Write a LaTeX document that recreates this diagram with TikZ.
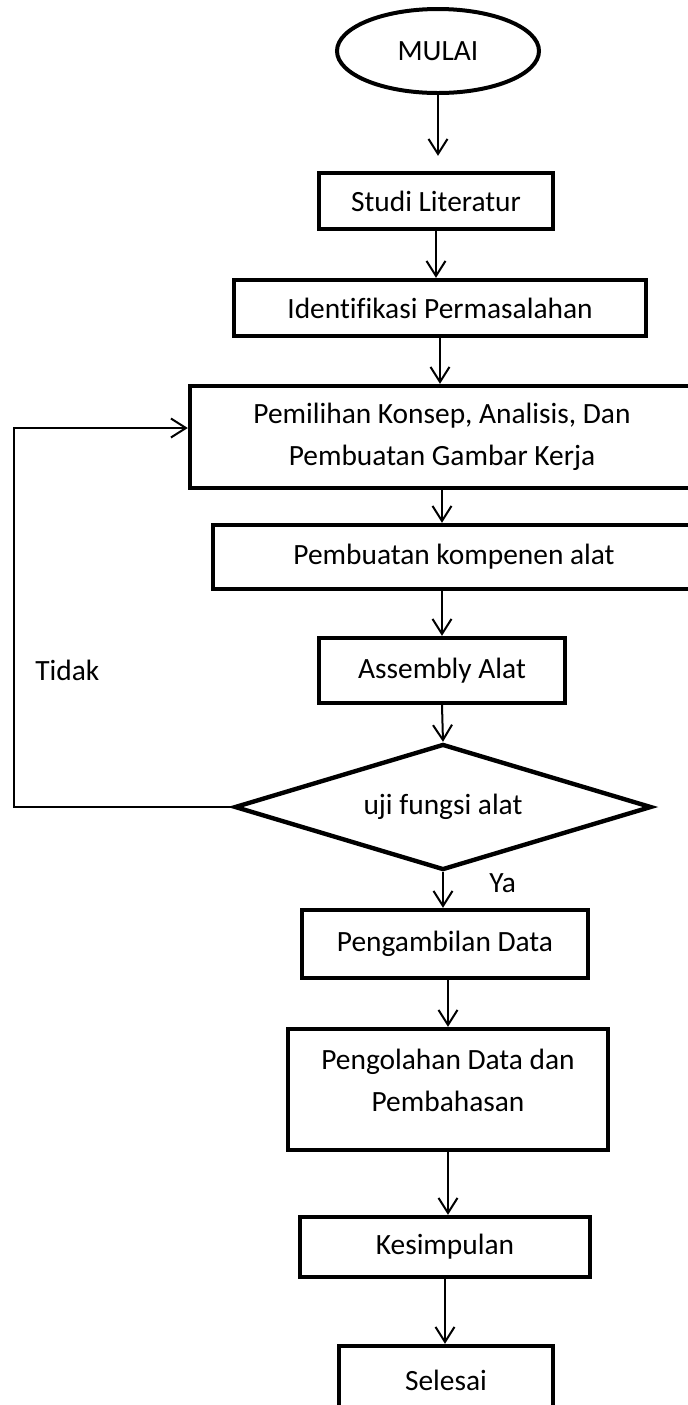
\documentclass[tikz,border=0pt]{standalone}
\usepackage{fontspec}
\setmainfont{Carlito}[Ligatures=NoCommon]
\usetikzlibrary{arrows.meta,shapes.geometric,calc}

\begin{document}
\begin{tikzpicture}[
    x=0.5pt, y=-0.5pt,
    every node/.style={font=\fontsize{14.7}{21}\selectfont},
    flow/.style={-{Straight Barb[length=7.5pt,width=9.5pt]}, line width=1pt, black},
    stepbox/.style={draw=black, fill=white, line width=2.2pt,
                    align=center, inner sep=0pt},
    terminal/.style={draw=black, fill=white, ellipse, line width=2pt,
                     inner sep=0pt},
    decide/.style={draw=black, fill=white, diamond, aspect=3.3,
                   line width=2.2pt, inner sep=0pt},
    note/.style={anchor=base west, inner sep=0pt},
]

\useasboundingbox (0,0) rectangle (687,1405);

% ── loop-back column ─────────────────────────────────────────
\def\xBack{14}

% ════ START ══════════════════════════════════════════════════
\node[terminal, minimum width=101pt, minimum height=42pt] (mulai) at (438,51) {MULAI};

% ════ PREPARATION ════════════════════════════════════════════
\node[stepbox, minimum width=117pt, minimum height=28pt] (studi) at (436,201) {Studi Literatur};
\node[stepbox, minimum width=206pt, minimum height=28pt] (ident) at (440,308) {Identifikasi Permasalahan};
\node[stepbox, minimum width=252pt, minimum height=51pt] (pilih) at (442,437)
    {Pemilihan Konsep, Analisis, Dan\\Pembuatan Gambar Kerja};
\node[stepbox, minimum width=241pt, minimum height=32pt] (buat) at (454,557) {Pembuatan kompenen alat};
\node[stepbox, minimum width=123pt, minimum height=32.5pt] (asm) at (442,670.5) {Assembly Alat};

% ════ DECISION ═══════════════════════════════════════════════
\node[decide, minimum width=208.5pt, minimum height=63pt] (uji) at (443,807) {uji fungsi alat};

% ════ RESULTS ════════════════════════════════════════════════
\node[stepbox, minimum width=143pt, minimum height=34pt] (ambil) at (445,944) {Pengambilan Data};
% text sits high in this box
\node[stepbox, minimum width=160pt, minimum height=60.5pt] (olah) at (448,1089.5)
    {Pengolahan Data dan\\Pembahasan\\[-12pt]~};
\node[stepbox, minimum width=145pt, minimum height=30pt] (kesim) at (445,1247) {Kesimpulan};
\node[stepbox, minimum width=107pt, minimum height=34pt] (selesai) at (446,1380) {Selesai};

% ── labels ───────────────────────────────────────────────────
\node[note] (tidak) at (35,680) {Tidak};
\node[note] (ya) at (489,892) {Ya};

% ── main flow ────────────────────────────────────────────────
\draw[flow, shorten >=7.5pt] (mulai.south) -- (mulai.south |- studi.north);
\draw[flow] (studi.south) -- (studi.south |- ident.north);
\draw[flow] (ident.south) -- (ident.south |- pilih.north);
\draw[flow] (pilih.south) -- (pilih.south |- buat.north);
\draw[flow] (asm.north |- buat.south) -- (asm.north);
\draw[flow] (asm.south) -- (uji.north);
\draw[flow] (uji.south) -- (uji.south |- ambil.north);
\draw[flow] (olah.north |- ambil.south) -- (olah.north);
\draw[flow] (olah.south) -- (olah.south |- kesim.north);
\draw[flow] (kesim.south) -- (kesim.south |- selesai.north);

% ── loop back (Tidak) ────────────────────────────────────────
\coordinate (back) at (\xBack,807);
\draw[flow] (uji.west) -- (back) |- ([yshift=4.5pt]pilih.west);

\end{tikzpicture}
\end{document}
